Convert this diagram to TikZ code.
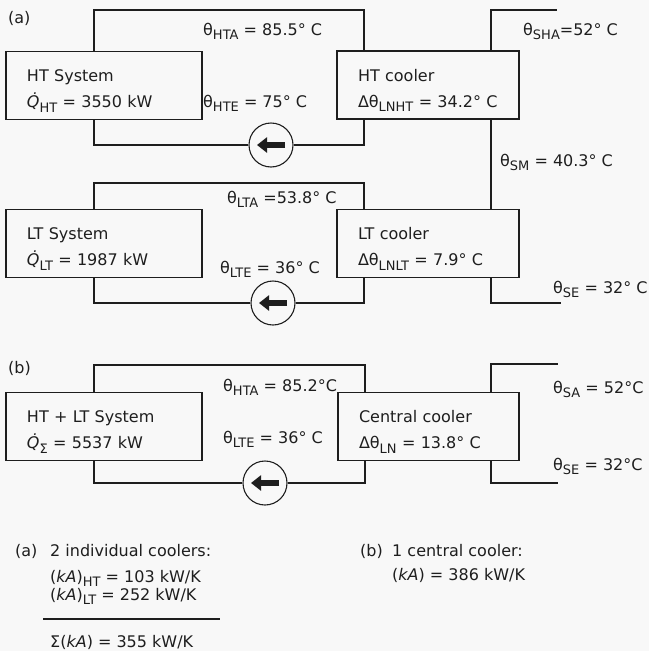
\documentclass[tikz,border=0pt]{standalone}
\usepackage{fontspec}
\setmainfont{DejaVu Sans}
\usetikzlibrary{arrows.meta, positioning, calc}
\definecolor{ink}{HTML}{1E1E1E}
\definecolor{paper}{HTML}{F8F8F8}
\newcommand{\lsub}[1]{\raisebox{-4.5pt}{\fontsize{13}{13}\selectfont #1}}
\newcommand{\qdot}{{\itshape\.{Q}}}
\newcommand{\topstrut}{\rule{0pt}{23pt}}

\begin{document}
\begin{tikzpicture}[x=1pt, y=-1pt,
  >={Triangle[length=10pt, width=15pt]},
  box/.style={draw=ink, line width=1.1pt, text=ink, align=left,
    minimum height=68pt, inner xsep=21pt, inner ysep=0pt, text width=#1,
    font=\fontsize{16}{26}\selectfont},
  pump/.style={draw=ink, line width=1.1pt, circle, minimum size=44pt, inner sep=0pt},
  pipe/.style={ink, line width=1.1pt},
  lbl/.style={anchor=base west, text=ink, inner sep=0pt, font=\fontsize{16}{20}\selectfont},
]

% Background
\fill[paper] (0,0) rectangle (649,651);
\useasboundingbox (0,0) rectangle (649,651);

% === (a) two individual coolers ===
\node[lbl] (taga) at (8,23) {(a)};

\node[box=154pt] (htsys) at (104,85.5) {\topstrut HT System\\\qdot\lsub{HT} = 3550 kW};
\node[box=140pt] (htcool) at (428,85) {\topstrut HT cooler\\\mbox{Δθ\lsub{LNHT} = 34.2° C}};
\node[pump] (htpump) at (271,145) {};

\node[box=154pt] (ltsys) at (104,243.5) {\topstrut LT System\\\qdot\lsub{LT} = 1987 kW};
\node[box=140pt] (ltcool) at (428,243.5) {\topstrut LT cooler\\Δθ\lsub{LNLT} = 7.9° C};
\node[pump] (ltpump) at (273,303) {};

% HT loop
\coordinate (htL) at (94,10);
\coordinate (htR) at (364,10);
\draw[pipe] (htsys.north -| htL) -- (htL) -- (htR) -- (htcool.north -| htR);
\draw[pipe] (htsys.south -| htL) |- (htpump.west);
\draw[pipe] (htpump.east) -| (htcool.south -| htR);

% LT loop
\coordinate (ltL) at (94,183);
\coordinate (ltR) at (364,183);
\draw[pipe] (ltsys.north -| ltL) -- (ltL) -- (ltR) -- (ltcool.north -| ltR);
\draw[pipe] (ltsys.south -| ltL) |- (ltpump.west);
\draw[pipe] (ltpump.east) -| (ltcool.south -| ltR);

% sea water
\coordinate (seaM) at (491,10);
\coordinate (seaA) at (557,10);
\coordinate (seaE) at (561,303);
\draw[pipe] (htcool.north -| seaM) -- (seaM) -- (seaA);
\draw[pipe] (htcool.south -| seaM) -- (ltcool.north -| seaM);
\draw[pipe] (ltcool.south -| seaM) |- (seaE);

% pump arrows
\draw[pipe, line width=6pt, ->] ([xshift=14pt]htpump.center) -- ([xshift=-14pt]htpump.center);
\draw[pipe, line width=6pt, ->] ([xshift=14pt]ltpump.center) -- ([xshift=-14pt]ltpump.center);

% temperatures
\node[lbl] (thta) at (203,35) {θ\lsub{HTA} = 85.5° C};
\node[lbl] (thte) at (203,107) {θ\lsub{HTE} = 75° C};
\node[lbl] (tsha) at (523,35) {θ\lsub{SHA}=52° C};
\node[lbl] (tsm) at (500,166) {θ\lsub{SM} = 40.3° C};
\node[lbl] (tlta) at (227,203) {θ\lsub{LTA} =53.8° C};
\node[lbl] (tlte) at (220,273) {θ\lsub{LTE} = 36° C};
\node[lbl] (tse) at (553,293) {θ\lsub{SE} = 32° C};

% === (b) one central cooler ===
\node[lbl] (tagb) at (8,373) {(b)};

\node[box=154pt] (sys) at (104,426.5) {\topstrut HT + LT System\\\qdot\lsub{Σ} = 5537 kW};
\node[box=139pt] (cencool) at (428.5,426.5) {\topstrut Central cooler\\Δθ\lsub{LN} = 13.8° C};
\node[pump] (pump) at (265,483) {};

\coordinate (sysL) at (94,365);
\coordinate (sysR) at (365,365);
\draw[pipe] (sys.north -| sysL) -- (sysL) -- (sysR) -- (cencool.north -| sysR);
\draw[pipe] (sys.south -| sysL) |- (pump.west);
\draw[pipe] (pump.east) -| (cencool.south -| sysR);

\coordinate (seaMb) at (491,364);
\coordinate (seaAb) at (558,364);
\coordinate (seaEb) at (558,483);
\draw[pipe] (cencool.north -| seaMb) -- (seaMb) -- (seaAb);
\draw[pipe] (cencool.south -| seaMb) |- (seaEb);

\draw[pipe, line width=6pt, ->] ([xshift=14pt]pump.center) -- ([xshift=-14pt]pump.center);

\node[lbl] (thtab) at (223,391) {θ\lsub{HTA} = 85.2°C};
\node[lbl] (tlteb) at (223,443) {θ\lsub{LTE} = 36° C};
\node[lbl] (tsa) at (553,393) {θ\lsub{SA} = 52°C};
\node[lbl] (tseb) at (553,470) {θ\lsub{SE} = 32°C};

% === kA summary ===
\node[lbl] (suma) at (15,556) {(a)};
\node[lbl] (sumatxt) at (50,556) {2 individual coolers:};
\node[lbl] (kaht) at (50,582) {(\textit{kA})\lsub{HT} = 103 kW/K};
\node[lbl] (kalt) at (50,600) {(\textit{kA})\lsub{LT} = 252 kW/K};
\draw[pipe] (43,619) -- (220,619);
\node[lbl] (kasum) at (50,647) {Σ(\textit{kA}) = 355 kW/K};

\node[lbl] (sumb) at (360,556) {(b)};
\node[lbl] (sumbtxt) at (392,556) {1 central cooler:};
\node[lbl] (kab) at (392,580) {(\textit{kA}) = 386 kW/K};

\end{tikzpicture}
\end{document}
